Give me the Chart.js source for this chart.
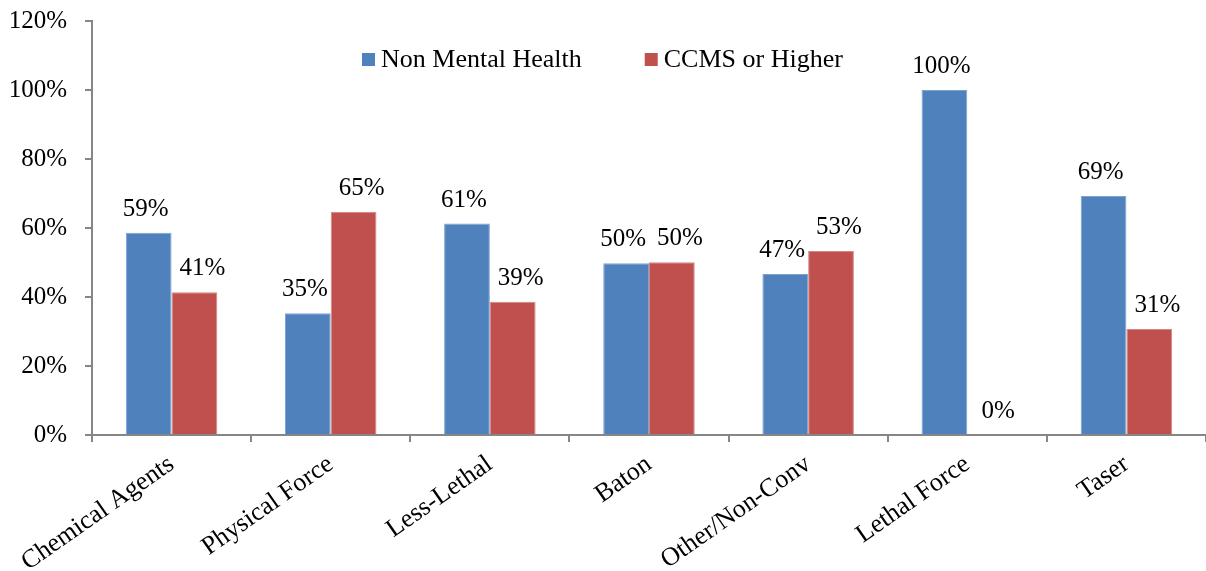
<!DOCTYPE html>
<html>
<head>
<meta charset="utf-8">
<script src="https://cdn.jsdelivr.net/npm/chart.js@4"></script>
<style>
  body { margin: 0; background: #fff; }
</style>
</head>
<body>
<canvas id="myChart" width="1206" height="571"></canvas>
<script>
const categories = ["Chemical Agents", "Physical Force", "Less-Lethal", "Baton", "Other/Non-Conv", "Lethal Force", "Taser"];
const nonMentalHealth = [58.6, 35.3, 61.3, 49.8, 46.7, 100, 69.3];
const ccmsOrHigher = [41.4, 64.7, 38.6, 50.1, 53.3, 0, 30.7];
const yTicks = [0, 20, 40, 60, 80, 100, 120];

const FONT = '"Liberation Serif", "Times New Roman", serif';
const axisGrey = "#868686";

// percent labels above each bar (excel nudges them apart a little)
const labelShift = [-3, 8];
const valueLabels = {
  id: "valueLabels",
  afterDatasetsDraw(chart) {
    const ctx = chart.ctx;
    ctx.save();
    ctx.font = "25px " + FONT;
    ctx.fillStyle = "#000";
    ctx.textAlign = "center";
    ctx.textBaseline = "alphabetic";
    chart.data.datasets.forEach((ds, i) => {
      chart.getDatasetMeta(i).data.forEach((bar, j) => {
        ctx.fillText(Math.round(ds.data[j]) + "%", bar.x + labelShift[i], bar.y - 17);
      });
    });
    ctx.restore();
  }
};

// legend sits inside the plot, a bit left of centre
const insideLegend = {
  id: "insideLegend",
  afterDraw(chart) {
    const ctx = chart.ctx;
    const area = chart.chartArea;
    let x = area.left + 270;
    const y = area.top + 46;
    ctx.save();
    ctx.font = "26px " + FONT;
    ctx.textBaseline = "alphabetic";
    chart.data.datasets.forEach((ds) => {
      ctx.fillStyle = ds.backgroundColor;
      ctx.fillRect(x, y - 14, 13, 13);
      ctx.fillStyle = "#000";
      ctx.fillText(ds.label, x + 19, y);
      x += 19 + ctx.measureText(ds.label).width + 63;
    });
    ctx.restore();
  }
};

new Chart(document.getElementById("myChart"), {
  type: "bar",
  data: {
    labels: categories,
    datasets: [
      {
        label: "Non Mental Health",
        data: nonMentalHealth,
        backgroundColor: "#4F81BD",
        borderColor: "#7EA1CE",
        borderWidth: { left: 1, right: 1, top: 1, bottom: 0 },
        categoryPercentage: 0.575,
        barPercentage: 1
      },
      {
        label: "CCMS or Higher",
        data: ccmsOrHigher,
        backgroundColor: "#C0504D",
        borderColor: "#D38684",
        borderWidth: { left: 1, right: 1, top: 1, bottom: 0 },
        categoryPercentage: 0.575,
        barPercentage: 1
      }
    ]
  },
  options: {
    responsive: false,
    animation: false,
    devicePixelRatio: 1,
    layout: { padding: { top: 21, right: 0, left: 0, bottom: 0 } },
    plugins: {
      legend: { display: false },
      tooltip: { enabled: false }
    },
    scales: {
      x: {
        grid: {
          offset: true,
          drawOnChartArea: false,
          drawTicks: true,
          tickLength: 7,
          color: axisGrey,
          lineWidth: 2
        },
        border: { color: axisGrey, width: 2 },
        ticks: {
          color: "#000",
          font: { family: FONT, size: 26 },
          minRotation: 35,
          maxRotation: 35,
          padding: 7
        },
        afterFit(scale) {
          scale.height = 136;
          scale.paddingLeft = 0;
          scale.paddingRight = 0;
        }
      },
      y: {
        min: 0,
        max: 120,
        afterBuildTicks(scale) {
          scale.ticks = yTicks.map((v) => ({ value: v }));
        },
        grid: {
          drawOnChartArea: false,
          drawTicks: true,
          tickLength: 7,
          color: axisGrey,
          lineWidth: 2
        },
        border: { color: axisGrey, width: 2 },
        ticks: {
          color: "#000",
          font: { family: FONT, size: 25 },
          padding: 18,
          callback: (v) => v + "%"
        },
        afterFit(scale) {
          scale.width = 92;
          scale.paddingTop = 0;
          scale.paddingBottom = 0;
        }
      }
    }
  },
  plugins: [valueLabels, insideLegend]
});
</script>
</body>
</html>
